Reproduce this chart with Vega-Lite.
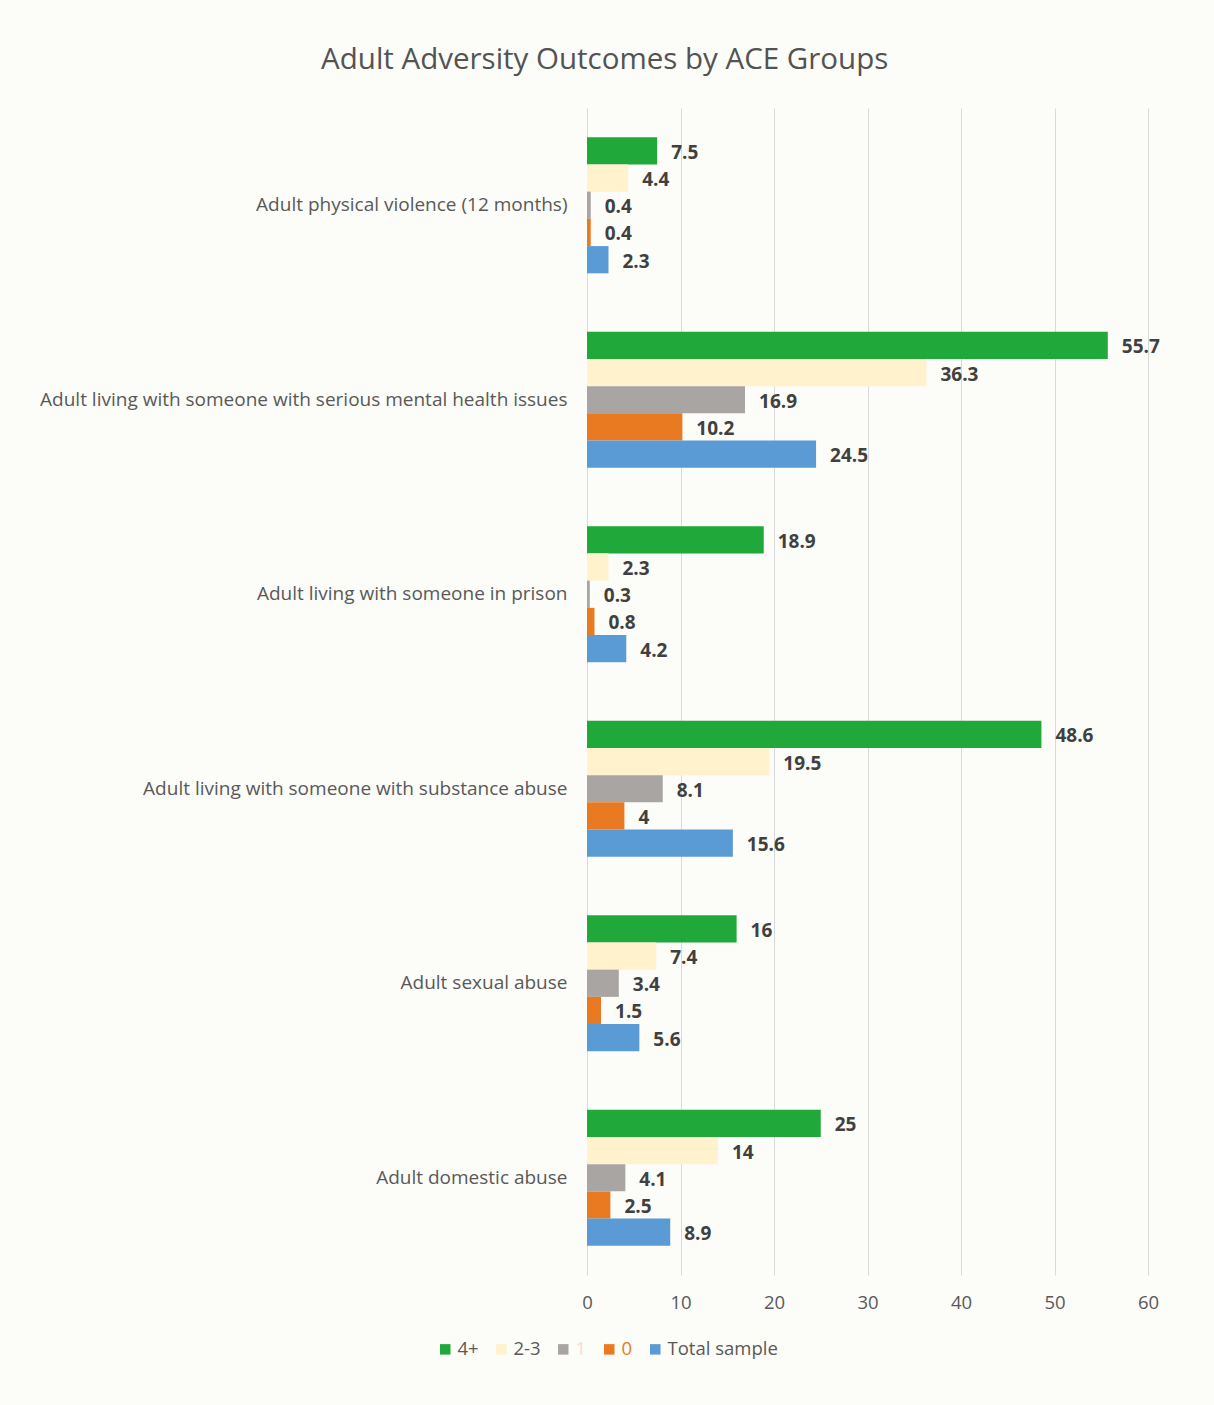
{
  "$schema": "https://vega.github.io/schema/vega-lite/v6.json",
  "autosize": {"type": "none"},
  "width": 561,
  "height": 1167,
  "padding": {"left": 587, "top": 108, "right": 66, "bottom": 130},
  "background": "#FCFCF8",
  "config": {"view": {"stroke": null}},
  "title": {
    "text": "Adult Adversity Outcomes by ACE Groups",
    "anchor": "middle",
    "frame": "bounds",
    "dx": 5,
    "offset": 33,
    "font": "Open Sans",
    "fontSize": 29.5,
    "fontWeight": "normal",
    "color": "#535353"
  },
  "data": {
    "values": [
      {"outcome": "Adult physical violence (12 months)", "group": "4+", "value": 7.5},
      {"outcome": "Adult physical violence (12 months)", "group": "2-3", "value": 4.4},
      {"outcome": "Adult physical violence (12 months)", "group": "1", "value": 0.4},
      {"outcome": "Adult physical violence (12 months)", "group": "0", "value": 0.4},
      {"outcome": "Adult physical violence (12 months)", "group": "Total sample", "value": 2.3},
      {"outcome": "Adult living with someone with serious mental health issues", "group": "4+", "value": 55.7},
      {"outcome": "Adult living with someone with serious mental health issues", "group": "2-3", "value": 36.3},
      {"outcome": "Adult living with someone with serious mental health issues", "group": "1", "value": 16.9},
      {"outcome": "Adult living with someone with serious mental health issues", "group": "0", "value": 10.2},
      {"outcome": "Adult living with someone with serious mental health issues", "group": "Total sample", "value": 24.5},
      {"outcome": "Adult living with someone in prison", "group": "4+", "value": 18.9},
      {"outcome": "Adult living with someone in prison", "group": "2-3", "value": 2.3},
      {"outcome": "Adult living with someone in prison", "group": "1", "value": 0.3},
      {"outcome": "Adult living with someone in prison", "group": "0", "value": 0.8},
      {"outcome": "Adult living with someone in prison", "group": "Total sample", "value": 4.2},
      {"outcome": "Adult living with someone with substance abuse", "group": "4+", "value": 48.6},
      {"outcome": "Adult living with someone with substance abuse", "group": "2-3", "value": 19.5},
      {"outcome": "Adult living with someone with substance abuse", "group": "1", "value": 8.1},
      {"outcome": "Adult living with someone with substance abuse", "group": "0", "value": 4},
      {"outcome": "Adult living with someone with substance abuse", "group": "Total sample", "value": 15.6},
      {"outcome": "Adult sexual abuse", "group": "4+", "value": 16},
      {"outcome": "Adult sexual abuse", "group": "2-3", "value": 7.4},
      {"outcome": "Adult sexual abuse", "group": "1", "value": 3.4},
      {"outcome": "Adult sexual abuse", "group": "0", "value": 1.5},
      {"outcome": "Adult sexual abuse", "group": "Total sample", "value": 5.6},
      {"outcome": "Adult domestic abuse", "group": "4+", "value": 25},
      {"outcome": "Adult domestic abuse", "group": "2-3", "value": 14},
      {"outcome": "Adult domestic abuse", "group": "1", "value": 4.1},
      {"outcome": "Adult domestic abuse", "group": "0", "value": 2.5},
      {"outcome": "Adult domestic abuse", "group": "Total sample", "value": 8.9}
    ]
  },
  "encoding": {
    "y": {
      "field": "outcome",
      "type": "nominal",
      "sort": null,
      "scale": {"paddingInner": 0.3, "paddingOuter": 0.15},
      "axis": {
        "title": null,
        "domain": false,
        "ticks": false,
        "labelPadding": 20,
        "labelFont": "Open Sans",
        "labelFontSize": 19,
        "labelColor": "#595959",
        "labelLimit": 600
      }
    },
    "yOffset": {
      "field": "group",
      "type": "nominal",
      "sort": ["4+", "2-3", "1", "0", "Total sample"],
      "scale": {"paddingInner": 0, "paddingOuter": 0}
    },
    "x": {
      "field": "value",
      "type": "quantitative",
      "scale": {"domain": [0, 60], "nice": false},
      "axis": {
        "title": null,
        "values": [0, 10, 20, 30, 40, 50, 60],
        "domain": false,
        "ticks": false,
        "grid": true,
        "gridColor": "#D9D9D9",
        "gridWidth": 1,
        "labelFlush": false,
        "labelPadding": 18,
        "labelFont": "Open Sans",
        "labelFontSize": 18.5,
        "labelColor": "#595959"
      }
    }
  },
  "layer": [
    {
      "mark": {"type": "bar"},
      "encoding": {
        "color": {
          "field": "group",
          "type": "nominal",
          "sort": ["4+", "2-3", "1", "0", "Total sample"],
          "scale": {
            "domain": ["4+", "2-3", "1", "0", "Total sample"],
            "range": ["#21A83A", "#FFF2CC", "#A8A5A2", "#E97A22", "#5B9BD5"]
          },
          "legend": {
            "title": null,
            "orient": "none",
            "direction": "horizontal",
            "legendX": -151,
            "legendY": 1232,
            "symbolType": "square",
            "symbolSize": 110,
            "symbolStrokeWidth": 0,
            "labelFont": "Open Sans",
            "labelFontSize": 18.5,
            "labelColor": "#595959",
            "labelOffset": 3,
            "columnPadding": 13,
            "encode": {
              "labels": {
                "update": {
                  "fill": {"signal": "datum.label === '0' ? '#E97A22' : datum.label === '1' ? '#F6DCD2' : '#595959'"}
                }
              }
            }
          }
        }
      }
    },
    {
      "mark": {
        "type": "text",
        "align": "left",
        "baseline": "middle",
        "dx": 14,
        "dy": 2,
        "font": "Open Sans",
        "fontSize": 19,
        "fontWeight": "bold",
        "color": "#404040"
      },
      "encoding": {
        "text": {"field": "value", "type": "quantitative"}
      }
    }
  ]
}
